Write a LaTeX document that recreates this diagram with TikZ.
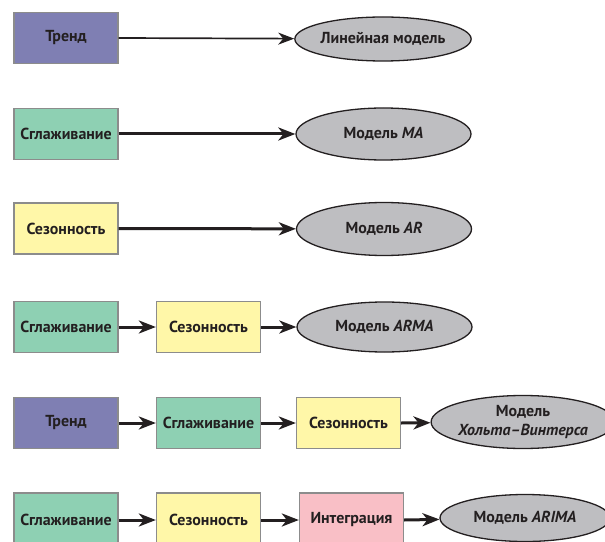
\documentclass[tikz,border=0pt]{standalone}
\usepackage{fontspec}
\setmainfont{PT Sans}
\usetikzlibrary{arrows.meta,shapes.geometric}
\definecolor{trendc}{HTML}{7F7FB3}
\definecolor{smoothc}{HTML}{8ED0B3}
\definecolor{seasonc}{HTML}{FFF7A8}
\definecolor{integc}{HTML}{F9BFC6}
\definecolor{modelc}{HTML}{BEBEC1}
\definecolor{boxline}{HTML}{8C8C8C}
\definecolor{arrowc}{HTML}{231F20}
\tikzset{
  stagebox/.style={draw=boxline, line width=1.3bp, minimum width=104bp, minimum height=51bp, inner sep=0pt, font=\fontsize{16}{17}\selectfont\bfseries, text=arrowc},
  trendbox/.style={stagebox, fill=trendc},
  smoothbox/.style={stagebox, fill=smoothc},
  seasonbox/.style={stagebox, fill=seasonc},
  integbox/.style={stagebox, fill=integc},
  modelell/.style={ellipse, draw=arrowc, line width=1.3bp, fill=modelc, inner sep=0pt, font=\fontsize{16}{20}\selectfont\bfseries, text=arrowc, align=center},
  thinarrow/.style={draw=arrowc, line width=1.7bp, -{Stealth[length=16bp,width=12bp,inset=5bp]}},
  thickarrow/.style={draw=arrowc, line width=3bp, -{Stealth[length=17bp,width=13bp,inset=5bp]}},
}
\begin{document}
\begin{tikzpicture}[x=1bp,y=-1bp]
\useasboundingbox (0,0) rectangle (605,542);
\clip (0,0) rectangle (605,542);
% Row 1
\node[trendbox] (t1) at (66,38) {Тренд};
\node[modelell, minimum width=172bp, minimum height=44bp] (m1) at (383,39) {Линейная модель};
\draw[thinarrow] (t1.east) -- (m1);
% Row 2
\node[smoothbox] (s2) at (66,134) {Сглаживание};
\node[modelell, minimum width=175bp, minimum height=52bp] (m2) at (383.5,134) {Модель \textit{MA}};
\draw[thickarrow] (s2.east) -- (m2);
% Row 3
\node[seasonbox] (z3) at (66,228.5) {Сезонность};
\node[modelell, minimum width=175bp, minimum height=53bp] (m3) at (384,229) {Модель \textit{AR}};
\draw[thickarrow] (z3.east) -- (m3);
% Row 4
\node[smoothbox] (s4) at (66,327) {Сглаживание};
\node[seasonbox] (z4) at (208.5,327) {Сезонность};
\node[modelell, minimum width=175bp, minimum height=50bp] (m4) at (384.5,327) {Модель \textit{ARMA}};
\draw[thickarrow] (s4.east) -- (z4.west);
\draw[thickarrow] (z4.east) -- (m4);
% Row 5
\node[trendbox] (t5) at (66,423) {Тренд};
\node[smoothbox] (s5) at (208.5,423) {Сглаживание};
\node[seasonbox] (z5) at (348.5,423) {Сезонность};
\node[modelell, minimum width=170bp, minimum height=53bp] (m5) at (523,422) {Модель\\\textit{Хольта–Винтерса}};
\draw[thickarrow] (t5.east) -- (s5.west);
\draw[thickarrow] (s5.east) -- (z5.west);
\draw[thickarrow] (z5.east) -- (m5);
% Row 6
\node[smoothbox, minimum height=54bp] (s6) at (66,520) {Сглаживание};
\node[seasonbox, minimum height=54bp] (z6) at (208.5,520) {Сезонность};
\node[integbox, minimum height=54bp] (i6) at (351.5,520) {Интеграция};
\node[modelell, minimum width=170bp, minimum height=47bp] (m6) at (525,518) {Модель \textit{ARIMA}};
\draw[thickarrow] (s6.east) -- (z6.west);
\draw[thickarrow] (z6.east) -- (i6.west);
\draw[thickarrow] (i6.east) -- (m6);
\end{tikzpicture}
\end{document}
